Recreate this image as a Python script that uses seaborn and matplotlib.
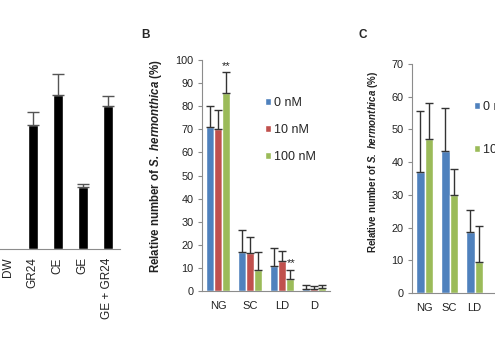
import numpy as np
import pandas as pd
import seaborn as sns
import matplotlib.pyplot as plt

# Panel A (y scale not visible in the crop, values in arbitrary %)
a_groups = ['DW', 'GR24', 'CE', 'GE', 'GE + GR24']
a_values = [0, 56.4, 70, 28.2, 65]
a_err = [0, 5.9, 9.5, 1.4, 4.5]

# Panel B
b_stages = ['NG', 'SC', 'LD', 'D']
b_conc = ['0 nM', '10 nM', '100 nM']
b_0nm = [71, 17, 11, 0.8]
b_10nm = [70, 16.5, 12.8, 1.0]
b_100nm = [85.5, 9, 5, 1.5]
b_err_0nm = [9, 9.5, 7.5, 1.7]
b_err_10nm = [8.5, 7, 4.7, 1.2]
b_err_100nm = [9.5, 8, 4, 1.3]

# Panel C
c_stages = ['NG', 'SC', 'LD']
c_conc = ['0 nM', '100 nM']
c_0nm = [37, 43.5, 18.5]
c_100nm = [47, 30, 9.5]
c_err_0nm = [18.5, 13, 7]
c_err_100nm = [11, 8, 11]

colors = ['#4F81BD', '#C0504D', '#9BBB59']
W, H = 495, 353

sns.set_style('white')
plt.rcParams['font.family'] = ['Liberation Sans', 'DejaVu Sans']
plt.rcParams['mathtext.fontset'] = 'custom'
plt.rcParams['mathtext.rm'] = 'Liberation Sans'
plt.rcParams['mathtext.bf'] = 'Liberation Sans:bold'
plt.rcParams['mathtext.bfit'] = 'Liberation Sans:italic:bold'
plt.rcParams['mathtext.it'] = 'Liberation Sans:italic'

fig = plt.figure(figsize=(W / 100, H / 100), dpi=100)


def px_axes(left, top, right, bottom):
    return fig.add_axes([left / W, 1 - bottom / H, (right - left) / W, (bottom - top) / H])


def style_axes(ax, n, ymax=None, ystep=None, show_y=True, xpad=7.5, xsize=8):
    for s in ['top', 'right']:
        ax.spines[s].set_visible(False)
    for s in ['left', 'bottom']:
        ax.spines[s].set_color('#8c8c8c')
        ax.spines[s].set_linewidth(0.8)
    ax.set_xlim(-0.5, n - 0.5)
    ax.set_xticks(np.arange(-0.5, n), minor=True)
    ax.tick_params(axis='x', which='major', length=0, labelsize=xsize, colors='#222222', pad=xpad)
    ax.tick_params(axis='x', which='minor', length=3, color='#8c8c8c', direction='out')
    if show_y:
        ax.set_ylim(0, ymax)
        ax.set_yticks(np.arange(0, ymax + 1, ystep))
        ax.tick_params(axis='y', length=3, color='#8c8c8c', direction='out', labelsize=7.8,
                       colors='#222222', left=True, pad=3)
    ax.set_xlabel('')
    ax.grid(False)


def add_errors(ax, errs, color='#333333', cap=3):
    for cont, err in zip(ax.containers, errs):
        for bar, e in zip(cont, err):
            x = bar.get_x() + bar.get_width() / 2
            y = bar.get_height()
            if e > 0:
                ax.errorbar(x, y, yerr=[[0], [e]], fmt='none', ecolor=color,
                            elinewidth=1, capsize=cap, capthick=1)


ylab = r'Relative number of $\mathbfit{S.\ hermonthica}$ (%)'

# ---- Panel A ----
axA = px_axes(-5, 29, 120, 249)
dfA = pd.DataFrame({'group': a_groups, 'value': a_values})
sns.barplot(data=dfA, x='group', y='value', color='black', saturation=1, width=0.4, ax=axA)
add_errors(axA, [a_err], color='#555555', cap=4)
style_axes(axA, len(a_groups), show_y=False, xpad=6, xsize=8.5)
axA.set_ylim(0, 100)
axA.set_yticks([])
axA.set_ylabel('')
axA.spines['left'].set_visible(False)
plt.setp(axA.get_xticklabels(), rotation=90, va='top')

# ---- Panel B ----
axB = px_axes(202, 60, 330, 291)
dfB = pd.DataFrame({
    'stage': b_stages * 3,
    'conc': [b_conc[0]] * 4 + [b_conc[1]] * 4 + [b_conc[2]] * 4,
    'value': b_0nm + b_10nm + b_100nm,
})
sns.barplot(data=dfB, x='stage', y='value', hue='conc', palette=colors, saturation=1,
            width=0.75, ax=axB)
add_errors(axB, [b_err_0nm, b_err_10nm, b_err_100nm])
style_axes(axB, len(b_stages), 100, 10)
axB.set_ylabel(ylab, fontsize=8.3, fontweight='bold', color='#222222')
axB.yaxis.set_label_coords(-0.30, 0.54)
hB, lB = axB.get_legend_handles_labels()
axB.legend(hB, lB, loc='upper left', bbox_to_anchor=(265 / W, 1 - 97 / H),
           bbox_transform=fig.transFigure, frameon=False, fontsize=9, handlelength=0.5,
           handleheight=0.5, handletextpad=0.2, labelspacing=1.2, borderpad=0,
           borderaxespad=0)
green_ng = axB.containers[2][0]
axB.text(green_ng.get_x() + green_ng.get_width() / 2, 97.5, '**', ha='center', va='center',
         fontsize=8, color='#222222')
green_ld = axB.containers[2][2]
axB.text(green_ld.get_x() + green_ld.get_width() / 2 + 0.05, 12, '**', ha='center',
         va='center', fontsize=8, color='#222222')

# ---- Panel C ----
axC = px_axes(412, 64, 512, 293)
dfC = pd.DataFrame({
    'stage': c_stages * 2,
    'conc': [c_conc[0]] * 3 + [c_conc[1]] * 3,
    'value': c_0nm + c_100nm,
})
sns.barplot(data=dfC, x='stage', y='value', hue='conc', palette=[colors[0], colors[2]],
            saturation=1, width=0.66, ax=axC)
add_errors(axC, [c_err_0nm, c_err_100nm])
style_axes(axC, 4, 70, 10)
axC.set_ylabel(ylab, fontsize=7, fontweight='bold', color='#222222')
axC.yaxis.set_label_coords(-0.32, 0.57)
hC, lC = axC.get_legend_handles_labels()
axC.legend(hC, lC, loc='upper left', bbox_to_anchor=(474 / W, 1 - 101 / H),
           bbox_transform=fig.transFigure, frameon=False, fontsize=9, handlelength=0.5,
           handleheight=0.5, handletextpad=0.2, labelspacing=2.5, borderpad=0,
           borderaxespad=0)

# panel letters
fig.text(145 / W, 1 - 35 / H, 'B', fontsize=8.5, fontweight='bold', ha='center', va='center')
fig.text(363 / W, 1 - 35 / H, 'C', fontsize=8.5, fontweight='bold', ha='center', va='center')

fig.savefig('out.png', dpi=100)
